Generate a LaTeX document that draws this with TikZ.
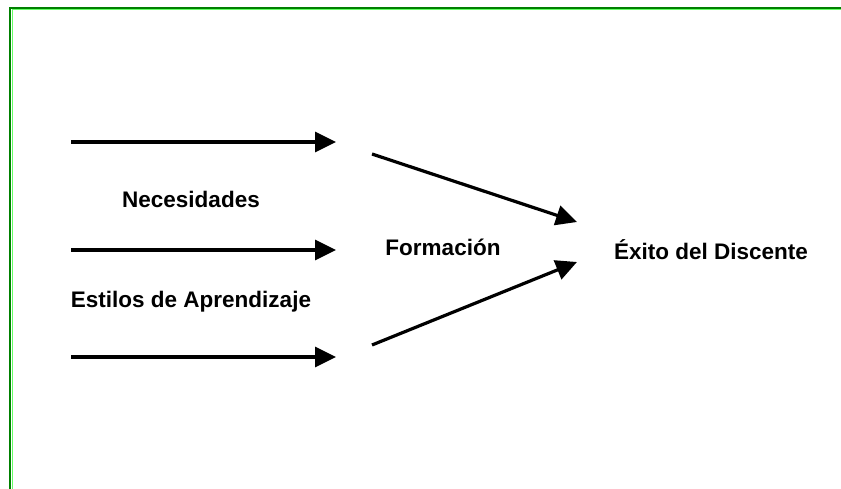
\documentclass[tikz,border=0pt]{standalone}
\usepackage{fontspec}
\setmainfont{Liberation Sans}
\usetikzlibrary{arrows.meta}
\begin{document}
\begin{tikzpicture}[x=1pt,y=-1pt,
  arr/.style={line width=3.2pt,-{Triangle[length=21pt,width=20pt]}},
  lbl/.style={font=\fontsize{22.5}{26}\selectfont\bfseries,anchor=base,inner sep=0pt}]
\useasboundingbox (0,0) rectangle (841,489);
\fill[white] (0,0) rectangle (841,489);
\draw[green!50!black,line width=2pt] (10,489) -- (10,8) -- (841,8);
\draw[green!60,line width=1pt] (12,489) -- (12,10) -- (841,10);
% horizontal arrows
\coordinate (a1s) at (71,142); \coordinate (a1e) at (336,142);
\coordinate (a2s) at (71,250); \coordinate (a2e) at (336,250);
\coordinate (a3s) at (71,357); \coordinate (a3e) at (336,357);
\draw[arr] (a1s) -- (a1e);
\draw[arr] (a2s) -- (a2e);
\draw[arr] (a3s) -- (a3e);
% diagonal arrows
\coordinate (d1s) at (372,154); \coordinate (d1e) at (577,222);
\coordinate (d2s) at (372,345); \coordinate (d2e) at (577,262);
\draw[arr] (d1s) -- (d1e);
\draw[arr] (d2s) -- (d2e);
% labels
\node[lbl] (nec) at (191,208) {Necesidades};
\node[lbl] (est) at (191,308) {Estilos de Aprendizaje};
\node[lbl] (for) at (443,256) {Formación};
\node[lbl] (exi) at (711,259) {Éxito del Discente};
\end{tikzpicture}
\end{document}
